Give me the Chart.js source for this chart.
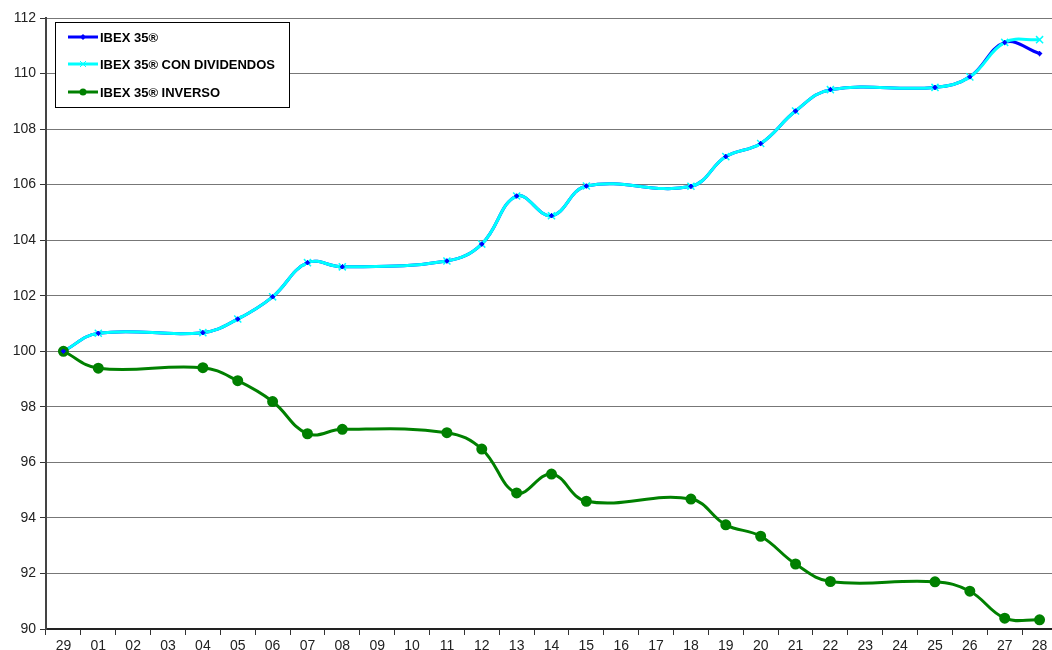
<!DOCTYPE html>
<html>
<head>
<meta charset="utf-8">
<script src="https://cdn.jsdelivr.net/npm/chart.js@4/dist/chart.umd.min.js"></script>
<style>
  html, body { margin: 0; padding: 0; background: #fff; overflow: hidden; }
  #wrap { width: 1064px; height: 650px; }
</style>
</head>
<body>
<div id="wrap"><canvas id="ibexChart" width="1064" height="650"></canvas></div>
<script>
// dias (sesiones) del periodo
const dias = ['29','01','02','03','04','05','06','07','08','09','10','11','12','13','14',
              '15','16','17','18','19','20','21','22','23','24','25','26','27','28'];

// valores base 100, null = sin sesion
const ibex35 = [100, 100.65, null, null, 100.67, 101.16, 101.96, 103.19, 103.04, null, null, 103.25, 103.86, 105.59, 104.88,
                105.95, null, null, 105.94, 107.01, 107.48, 108.65, 109.42, null, null, 109.50, 109.88, 111.12, 110.72];
const ibex35Div = [100, 100.65, null, null, 100.67, 101.16, 101.96, 103.19, 103.04, null, null, 103.25, 103.86, 105.59, 104.88,
                105.95, null, null, 105.94, 107.01, 107.48, 108.65, 109.42, null, null, 109.50, 109.88, 111.12, 111.22];
const ibex35Inv = [100, 99.39, null, null, 99.41, 98.94, 98.19, 97.03, 97.19, null, null, 97.07, 96.48, 94.90, 95.58,
                94.60, null, null, 94.68, 93.75, 93.34, 92.34, 91.71, null, null, 91.70, 91.36, 90.39, 90.33];

const nombres = ['IBEX 35®', 'IBEX 35® CON DIVIDENDOS', 'IBEX 35® INVERSO'];
const FONT = "'Liberation Sans', Arial, sans-serif";

// leyenda dentro del grafico, como en el original
const leyendaPlugin = {
  id: 'leyenda',
  afterDraw(chart) {
    const ctx = chart.ctx;
    ctx.save();
    ctx.fillStyle = '#fff';
    ctx.fillRect(55.5, 22.5, 234, 85);
    ctx.strokeStyle = '#000';
    ctx.lineWidth = 1;
    ctx.strokeRect(55.5, 22.5, 234, 85);
    const filas = [37, 64, 92];
    [0, 1, 2].forEach((i, k) => {
      const ds = chart.data.datasets[i];
      const y = filas[k];
      ctx.strokeStyle = ds.borderColor;
      ctx.lineWidth = 3;
      ctx.beginPath();
      ctx.moveTo(68, y);
      ctx.lineTo(98, y);
      ctx.stroke();
      // marcador
      ctx.fillStyle = ds.pointBackgroundColor;
      ctx.strokeStyle = ds.pointBorderColor;
      if (ds.pointStyle === 'rectRot') {
        ctx.beginPath();
        ctx.moveTo(83, y - 3); ctx.lineTo(86, y); ctx.lineTo(83, y + 3); ctx.lineTo(80, y);
        ctx.closePath(); ctx.fill();
      } else if (ds.pointStyle === 'crossRot') {
        ctx.lineWidth = 1;
        ctx.beginPath();
        ctx.moveTo(80, y - 3); ctx.lineTo(86, y + 3);
        ctx.moveTo(86, y - 3); ctx.lineTo(80, y + 3);
        ctx.stroke();
      } else {
        ctx.beginPath();
        ctx.arc(83, y, 3.5, 0, Math.PI * 2);
        ctx.fill();
      }
      ctx.fillStyle = '#000';
      ctx.font = 'bold 13px ' + FONT;
      ctx.textBaseline = 'middle';
      ctx.textAlign = 'left';
      ctx.fillText(ds.label, 100, y + 1);
    });
    ctx.restore();
  },
  // los marcadores azules se ven encima de la linea cian
  afterDatasetsDraw(chart) {
    const meta = chart.getDatasetMeta(0);
    const ctx = chart.ctx;
    ctx.save();
    meta.data.forEach(p => { if (!p.skip) p.draw(ctx, chart.chartArea); });
    ctx.restore();
  }
};

const ctx = document.getElementById('ibexChart').getContext('2d');
new Chart(ctx, {
  type: 'line',
  data: {
    labels: dias,
    datasets: [
      {
        label: nombres[0],
        data: ibex35,
        borderColor: '#0000ff',
        backgroundColor: '#0000ff',
        pointBackgroundColor: '#0000ff',
        pointBorderColor: '#0000ff',
        pointStyle: 'rectRot',
        pointRadius: 2.2,
        pointBorderWidth: 1,
        borderWidth: 3,
        tension: 0.4,
        spanGaps: true,
        order: 2
      },
      {
        label: nombres[1],
        data: ibex35Div,
        borderColor: '#00ffff',
        backgroundColor: '#00ffff',
        pointBackgroundColor: '#00ffff',
        pointBorderColor: '#00ffff',
        pointStyle: 'crossRot',
        pointRadius: 5,
        pointBorderWidth: 1.5,
        borderWidth: 3,
        tension: 0.4,
        spanGaps: true,
        order: 1
      },
      {
        label: nombres[2],
        data: ibex35Inv,
        borderColor: '#008000',
        backgroundColor: '#008000',
        pointBackgroundColor: '#008000',
        pointBorderColor: '#008000',
        pointStyle: 'circle',
        pointRadius: 4,
        borderWidth: 3,
        tension: 0.4,
        spanGaps: true,
        order: 0
      }
    ]
  },
  options: {
    responsive: false,
    animation: false,
    devicePixelRatio: 1,
    layout: { padding: { top: 18, right: 0, bottom: 0, left: 0 } },
    plugins: {
      legend: { display: false },
      tooltip: { enabled: false }
    },
    scales: {
      x: {
        offset: true,
        grid: {
          offset: true,
          drawOnChartArea: false,
          tickLength: 6,
          tickColor: '#333',
          tickWidth: 1
        },
        border: { color: '#222', width: 2 },
        ticks: {
          color: '#222',
          font: { family: FONT, size: 14 },
          padding: 3,
          maxRotation: 0,
          autoSkip: false
        },
        afterFit(scale) { scale.height = 21; }
      },
      y: {
        min: 90,
        max: 112,
        ticks: {
          stepSize: 2,
          color: '#222',
          font: { family: FONT, size: 14 },
          padding: 4
        },
        grid: {
          color: '#777',
          lineWidth: 1,
          borderDash: [2, 1],
          tickLength: 6,
          tickColor: '#333',
          tickBorderDash: []
        },
        border: { color: '#444', width: 2 },
        afterFit(scale) { scale.width = 46; }
      }
    }
  },
  plugins: [leyendaPlugin]
});
</script>
</body>
</html>
